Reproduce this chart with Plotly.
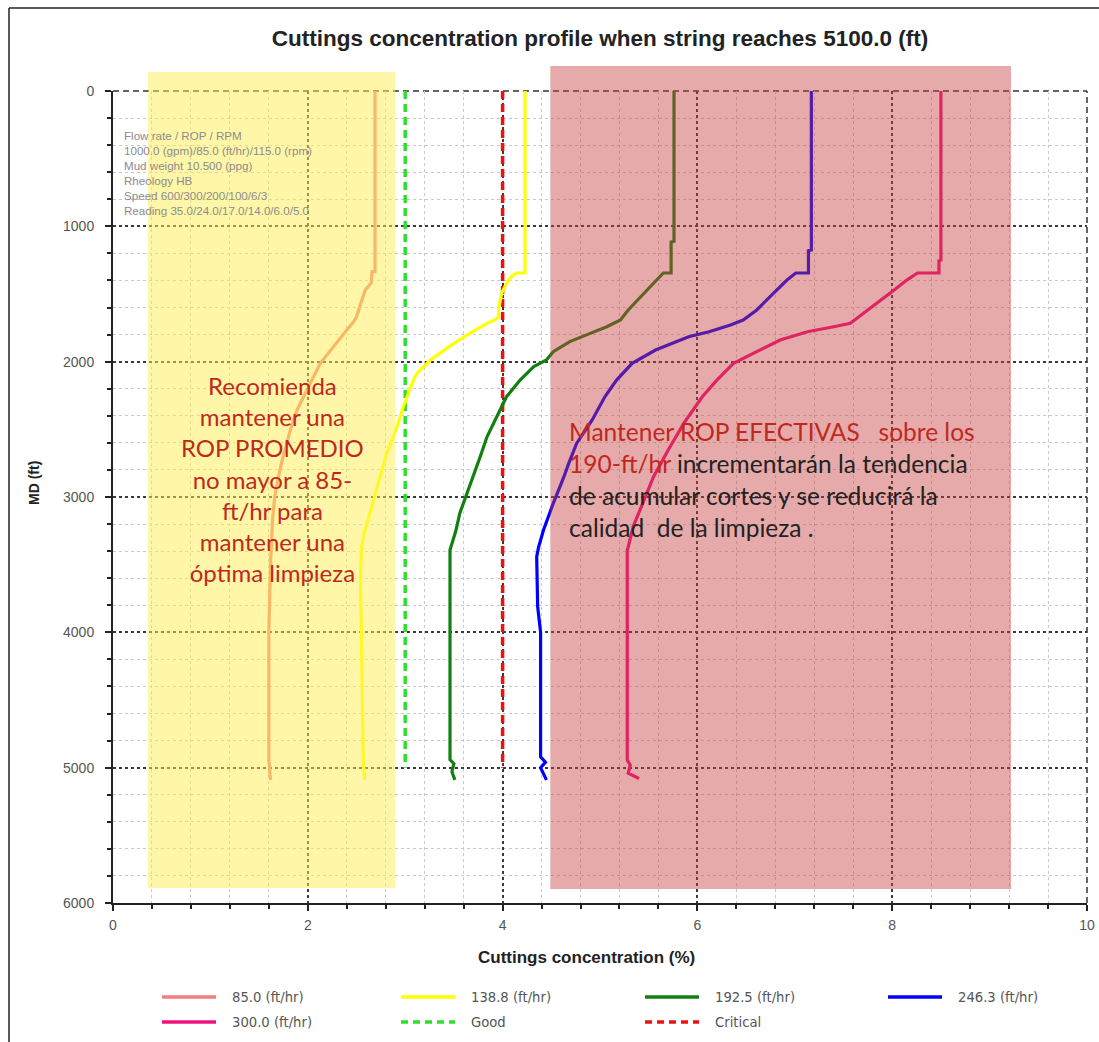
import plotly.graph_objects as go

# ---------------- data ----------------
string_depth_ft = 5100.0
rop_ft_hr = [85.0, 138.8, 192.5, 246.3, 300.0]
good_limit = 3.0
critical_limit = 4.0
limit_md = [0, 5000]

md_85 = [0, 1100, 1335, 1335, 1420, 1470, 1520, 1600, 1670, 1705, 1766, 1840, 1914, 2010,
         2110, 2210, 2357, 2505, 2630, 2750, 2880, 3000, 3150, 3270, 3450, 3700, 4000,
         4500, 4950, 5000, 5050, 5090]
conc_85 = [2.69, 2.69, 2.69, 2.66, 2.65, 2.59, 2.57, 2.53, 2.50, 2.47, 2.40, 2.32, 2.23, 2.13,
           2.06, 1.99, 1.89, 1.82, 1.77, 1.73, 1.69, 1.66, 1.64, 1.63, 1.62, 1.61, 1.60,
           1.60, 1.60, 1.61, 1.61, 1.62]

md_139 = [0, 1325, 1345, 1345, 1372, 1421, 1495, 1606, 1668, 1692, 1717, 1780, 1840, 1900,
          1988, 2086, 2160, 2260, 2333, 2450, 2555, 2676, 2776, 2900, 3023, 3150, 3294,
          3392, 3600, 4000, 4500, 4968, 5030, 5090]
conc_139 = [4.23, 4.23, 4.23, 4.14, 4.09, 4.04, 3.99, 3.96, 3.96, 3.92, 3.84, 3.69, 3.55, 3.43,
            3.26, 3.12, 3.07, 3.02, 2.98, 2.93, 2.88, 2.81, 2.77, 2.72, 2.67, 2.62, 2.57,
            2.55, 2.54, 2.55, 2.56, 2.57, 2.58, 2.58]

md_193 = [0, 1110, 1115, 1345, 1345, 1421, 1495, 1618, 1692, 1742, 1791, 1852, 1926, 1988,
          2037, 2136, 2259, 2407, 2555, 2703, 2900, 3050, 3121, 3250, 3343, 3392, 3600,
          4000, 4500, 4940, 4970, 5030, 5090]
conc_193 = [5.76, 5.76, 5.73, 5.73, 5.65, 5.55, 5.45, 5.29, 5.21, 5.07, 4.90, 4.69, 4.52, 4.45,
            4.32, 4.18, 4.04, 3.94, 3.84, 3.77, 3.67, 3.60, 3.56, 3.52, 3.48, 3.46, 3.46,
            3.46, 3.46, 3.46, 3.50, 3.48, 3.51]

md_246 = [0, 1175, 1180, 1345, 1345, 1397, 1495, 1618, 1692, 1729, 1779, 1816, 1914, 2012,
          2136, 2259, 2431, 2604, 2750, 2850, 3047, 3244, 3368, 3441, 3811, 4000, 4920,
          4960, 5000, 5040, 5090]
conc_246 = [7.17, 7.17, 7.14, 7.14, 7.01, 6.92, 6.78, 6.61, 6.47, 6.34, 6.12, 5.91, 5.57, 5.33,
            5.17, 5.05, 4.92, 4.76, 4.68, 4.63, 4.52, 4.42, 4.37, 4.35, 4.36, 4.39, 4.39,
            4.44, 4.39, 4.42, 4.45]

md_300 = [0, 1250, 1255, 1345, 1345, 1397, 1471, 1569, 1668, 1717, 1742, 1779, 1840, 1939,
          2012, 2136, 2259, 2456, 2653, 2850, 3023, 3220, 3368, 3392, 4000, 4944, 4980,
          5040, 5080]
conc_300 = [8.50, 8.50, 8.48, 8.48, 8.26, 8.15, 8.02, 7.84, 7.67, 7.57, 7.40, 7.13, 6.85, 6.58,
            6.37, 6.20, 6.05, 5.86, 5.70, 5.55, 5.45, 5.34, 5.29, 5.28, 5.28, 5.28, 5.31,
            5.29, 5.40]

info_lines = [
    "Flow rate / ROP / RPM",
    "1000.0 (gpm)/85.0 (ft/hr)/115.0 (rpm)",
    "Mud weight 10.500 (ppg)",
    "Rheology HB",
    "Speed 600/300/200/100/6/3",
    "Reading 35.0/24.0/17.0/14.0/6.0/5.0",
]

# ---------------- layout geometry ----------------
W, H = 1099, 1042
ML, MR, MT, MB = 113, 12, 91, 139
PW, PH = W - ML - MR, H - MT - MB


def px_x(px):
    return (px - ML) / PW


def px_y(py):
    return (H - MB - py) / PH


FONT = "Liberation Sans, Arial, sans-serif"
LEGEND_FONT = "DejaVu Sans, Verdana, sans-serif"
NOTE_FONT = "Lato, Open Sans, sans-serif"

series = [
    (rop_ft_hr[0], conc_85, md_85, "#F08080"),
    (rop_ft_hr[1], conc_139, md_139, "#FFFF00"),
    (rop_ft_hr[2], conc_193, md_193, "#118011"),
    (rop_ft_hr[3], conc_246, md_246, "#0000FF"),
    (rop_ft_hr[4], conc_300, md_300, "#F0107E"),
]

fig = go.Figure()

fig.add_trace(go.Scatter(x=[good_limit] * 2, y=limit_md, mode="lines", name="Good",
                         line=dict(color="#2EE02E", width=3.5, dash="8px,5px"),
                         showlegend=False))
fig.add_trace(go.Scatter(x=[critical_limit] * 2, y=limit_md, mode="lines", name="Critical",
                         line=dict(color="#F01010", width=3.5, dash="8px,5px"),
                         showlegend=False))
for rop, conc, md, color in series:
    fig.add_trace(go.Scatter(x=conc, y=md, mode="lines", name=f"{rop:.1f} (ft/hr)",
                             line=dict(color=color, width=3.2), showlegend=False))

shapes = []
# shaded zones (drawn over the curves, semi-transparent)
shapes.append(dict(type="rect", xref="x", yref="paper", x0=0.36, x1=2.90,
                   y0=px_y(888), y1=px_y(72), fillcolor="rgba(255,240,80,0.5)",
                   line=dict(width=0), layer="above"))
shapes.append(dict(type="rect", xref="x", yref="paper", x0=4.49, x1=9.22,
                   y0=px_y(889), y1=px_y(66), fillcolor="rgba(198,62,62,0.44)",
                   line=dict(width=0), layer="above"))
# dashed top / right edges of the plot frame
shapes.append(dict(type="line", xref="paper", yref="paper", x0=0, x1=1, y0=1, y1=1,
                   line=dict(color="#333", width=1.5, dash="6px,4px"), layer="below"))
shapes.append(dict(type="line", xref="paper", yref="paper", x0=1, x1=1, y0=0, y1=1,
                   line=dict(color="#333", width=1.5, dash="6px,4px"), layer="below"))
# outer window frame
shapes.append(dict(type="line", xref="paper", yref="paper", x0=px_x(9), x1=px_x(9),
                   y0=px_y(8), y1=px_y(H), line=dict(color="#222", width=1.5)))
shapes.append(dict(type="line", xref="paper", yref="paper", x0=px_x(9), x1=px_x(W),
                   y0=px_y(8), y1=px_y(8), line=dict(color="#222", width=1.5)))

annotations = []
# info box
annotations.append(dict(xref="paper", yref="paper", x=px_x(122), y=px_y(127),
                        xanchor="left", yanchor="top", align="left", showarrow=False,
                        text="<br>".join(info_lines),
                        font=dict(family=FONT, size=11.6, color="#8c8c8c")))
# comments
annotations.append(dict(xref="paper", yref="paper", x=px_x(272), y=px_y(479),
                        xanchor="center", yanchor="middle", align="center", showarrow=False,
                        text="Recomienda<br>mantener una<br>ROP PROMEDIO<br>no mayor a 85-"
                             "<br>ft/hr para<br>mantener una<br>óptima limpieza",
                        font=dict(family=NOTE_FONT, size=24, color="#C0281E")))
annotations.append(dict(xref="paper", yref="paper", x=px_x(567), y=px_y(479),
                        xanchor="left", yanchor="middle", align="left", showarrow=False,
                        text="Mantener ROP EFECTIVAS &nbsp; sobre los<br>190-ft/hr "
                             "<span style='color:#222'>incrementarán la tendencia</span><br>"
                             "<span style='color:#222'>de acumular cortes y se reducirá la</span><br>"
                             "<span style='color:#222'>calidad &nbsp;de la limpieza .</span>",
                        font=dict(family=NOTE_FONT, size=24.5, color="#C0281E")))
# axis titles
annotations.append(dict(xref="paper", yref="paper", x=px_x(586), y=px_y(957),
                        xanchor="center", yanchor="middle", showarrow=False,
                        text="<b>Cuttings concentration (%)</b>",
                        font=dict(family=FONT, size=17, color="#222")))
annotations.append(dict(xref="paper", yref="paper", x=px_x(34), y=px_y(483),
                        xanchor="center", yanchor="middle", showarrow=False, textangle=-90,
                        text="<b>MD (ft)</b>",
                        font=dict(family=FONT, size=14, color="#222")))

# legend drawn below the axis
legend_items = [(f"{rop:.1f} (ft/hr)", color, "solid") for rop, _, _, color in series]
legend_items += [("Good", "#2EE02E", "7px,5px"), ("Critical", "#F01010", "7px,5px")]
col_px = [162, 401, 645, 888]
row_py = [997, 1022]
for i, (label, color, dash) in enumerate(legend_items):
    r, c = divmod(i, 4)
    x0 = col_px[c]
    y = px_y(row_py[r])
    shapes.append(dict(type="line", xref="paper", yref="paper", x0=px_x(x0),
                       x1=px_x(x0 + 54), y0=y, y1=y,
                       line=dict(color=color, width=3.5, dash=dash)))
    annotations.append(dict(xref="paper", yref="paper", x=px_x(x0 + 68), y=y,
                            xanchor="left", yanchor="middle", showarrow=False, text=label,
                            font=dict(family=LEGEND_FONT, size=13.2, color="#555")))

axis_common = dict(
    showgrid=True, gridcolor="#3a3a3a", griddash="dot", gridwidth=1.5,
    showline=True, linecolor="#222", linewidth=2, zeroline=False,
    ticks="outside", ticklen=6, tickwidth=2, tickcolor="#222",
    tickfont=dict(family=FONT, size=14, color="#555"),
)

fig.update_layout(
    width=W, height=H,
    margin=dict(l=ML, r=MR, t=MT, b=MB, autoexpand=False),
    paper_bgcolor="white", plot_bgcolor="white",
    title=dict(text=f"<b>Cuttings concentration profile when string reaches "
                    f"{string_depth_ft:.1f} (ft)</b>",
               x=px_x(600), xref="paper", y=1 - 38 / H, yanchor="middle",
               xanchor="center", font=dict(family=FONT, size=22.5, color="#222")),
    xaxis=dict(range=[0, 10], tick0=0, dtick=2, ticklabelstandoff=2,
               minor=dict(dtick=0.4, showgrid=True, gridcolor="#c9c9c9", griddash="dot",
                          gridwidth=1, ticks="outside", ticklen=4, tickcolor="#222"),
               **axis_common),
    yaxis=dict(range=[6000, 0], tick0=0, dtick=1000, ticklabelstandoff=8,
               minor=dict(dtick=200, showgrid=True, gridcolor="#c9c9c9", griddash="dot",
                          gridwidth=1, ticks="outside", ticklen=4, tickcolor="#222"),
               **axis_common),
    shapes=shapes,
    annotations=annotations,
    showlegend=False,
)

fig.write_html("out.html")
